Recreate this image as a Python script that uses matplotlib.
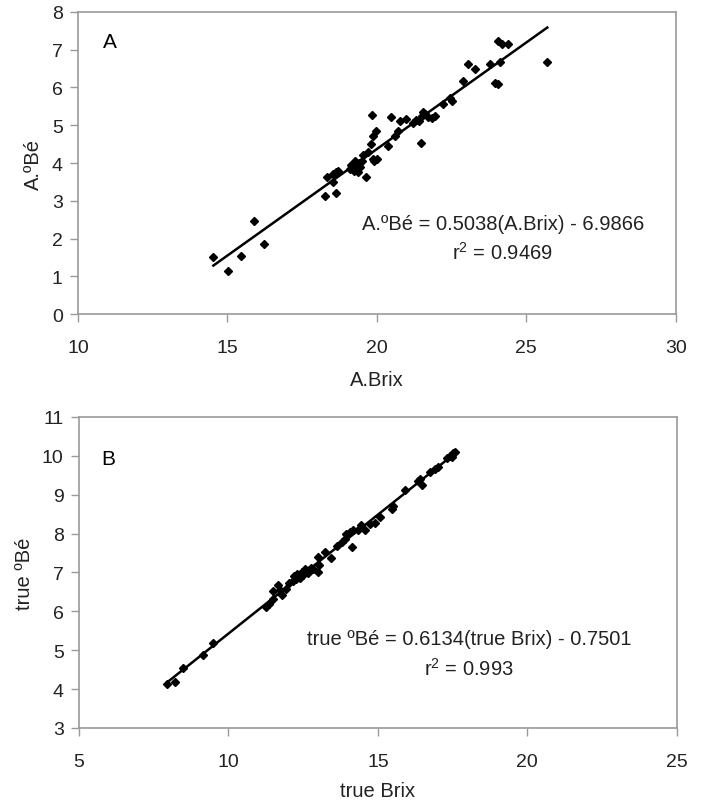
import numpy as np
import matplotlib.pyplot as plt

plt.rcParams['font.family'] = ['Liberation Sans', 'DejaVu Sans']
plt.rcParams['mathtext.fontset'] = 'custom'
plt.rcParams['mathtext.rm'] = 'Liberation Sans'
plt.rcParams['mathtext.default'] = 'regular'

# ---- panel A : apparent readings ----
a_brix = [14.53, 15.03, 15.47, 15.89, 16.23, 18.26, 18.32, 18.63, 18.54, 18.63,
          18.71, 18.54, 19.10, 19.20, 19.25, 19.30, 19.35, 19.40, 19.45, 19.50,
          19.15, 19.28, 19.38, 19.63, 19.82, 19.87, 19.90, 19.80, 19.87, 19.98,
          20.00, 20.38, 20.47, 20.60, 20.70, 20.76, 20.98, 21.20, 21.40, 21.50,
          21.60, 21.70, 21.85, 21.95, 21.49, 22.22, 22.44, 22.50, 22.89, 23.05,
          23.27, 23.78, 23.95, 24.06, 24.06, 24.17, 24.39, 24.11, 25.70, 19.55,
          19.70, 21.55, 21.30]
a_be = [1.50, 1.15, 1.54, 2.47, 1.85, 3.13, 3.62, 3.20, 3.50, 3.75,
        3.79, 3.70, 3.85, 3.90, 3.80, 3.95, 3.85, 4.00, 3.90, 4.05,
        3.95, 4.05, 3.75, 3.62, 5.26, 4.10, 4.05, 4.50, 4.72, 4.85,
        4.10, 4.45, 5.23, 4.72, 4.85, 5.11, 5.16, 5.07, 5.10, 5.25,
        5.30, 5.22, 5.20, 5.25, 4.54, 5.56, 5.73, 5.64, 6.17, 6.61,
        6.48, 6.61, 6.13, 6.09, 7.23, 7.14, 7.14, 6.66, 6.66, 4.20,
        4.30, 5.35, 5.15]

# ---- panel B : true readings ----
b_brix = [7.96, 8.21, 8.47, 9.16, 9.47, 11.27, 11.37, 11.50, 11.50, 11.67,
          11.80, 11.72, 11.93, 12.04, 12.15, 12.26, 12.37, 12.48, 12.60, 12.71,
          12.82, 12.99, 13.03, 12.99, 13.23, 13.44, 13.62, 13.79, 13.90, 13.95,
          14.12, 14.06, 14.17, 14.34, 14.45, 14.56, 14.72, 14.89, 15.07, 15.46,
          15.52, 15.90, 16.35, 16.46, 16.40, 16.74, 16.91, 17.02, 17.30, 17.41,
          17.52, 17.57, 17.47, 12.30, 12.45, 12.55, 12.65, 12.75, 12.40, 12.20]
b_be = [4.12, 4.18, 4.54, 4.88, 5.19, 6.11, 6.18, 6.31, 6.51, 6.68,
        6.41, 6.55, 6.58, 6.72, 6.79, 6.84, 6.88, 6.94, 7.01, 7.05,
        7.10, 7.01, 7.20, 7.39, 7.52, 7.37, 7.69, 7.77, 7.86, 7.99,
        7.65, 8.03, 8.08, 8.08, 8.23, 8.10, 8.24, 8.27, 8.42, 8.64,
        8.70, 9.13, 9.34, 9.25, 9.41, 9.58, 9.66, 9.70, 9.94, 10.00,
        10.07, 10.10, 9.97, 6.95, 7.00, 7.08, 6.98, 7.12, 6.85, 6.90]

txt = '#222222'
grey = '#9a9a9a'
fs = 14.5

fig = plt.figure(figsize=(7.05, 8.04), dpi=100)
axA = fig.add_axes([0.1106, 0.608, 0.848, 0.376])
axB = fig.add_axes([0.112, 0.0933, 0.848, 0.387])


def style(ax):
    for s in ax.spines.values():
        s.set_color(grey)
        s.set_linewidth(1.2)
    ax.tick_params(direction='out', length=6, width=1, color=grey,
                   labelsize=14, labelcolor=txt)
    ax.tick_params(axis='x', pad=12)
    ax.tick_params(axis='y', pad=5)


def panel(ax, x, y):
    x = np.array(x)
    y = np.array(y)
    k, b = np.polyfit(x, y, 1)
    xl = np.array([x.min(), x.max()])
    ax.plot(xl, k * xl + b, color='black', lw=1.8, zorder=2)
    ax.plot(x, y, 'D', color='black', ms=4.3, zorder=3)
    style(ax)


panel(axA, a_brix, a_be)
axA.set_xlim(10, 30)
axA.set_ylim(0, 8)
axA.set_xticks([10, 15, 20, 25, 30])
axA.set_yticks(range(0, 9))
axA.set_xlabel('A.Brix', fontsize=fs, color=txt, labelpad=10)
axA.set_ylabel('A.ºBé', fontsize=fs, color=txt, labelpad=6)
axA.text(10.83, 7.22, 'A', fontsize=15, color='black', va='center')
axA.text(24.21, 2.41, 'A.ºBé = 0.5038(A.Brix) - 6.9866', fontsize=fs,
         color=txt, ha='center', va='center')
axA.text(24.21, 1.64, 'r$^2$ = 0.9469', fontsize=fs, color=txt,
         ha='center', va='center')

panel(axB, b_brix, b_be)
axB.set_xlim(5, 25)
axB.set_ylim(3, 11)
axB.set_xticks([5, 10, 15, 20, 25])
axB.set_yticks(range(3, 12))
axB.set_xlabel('true Brix', fontsize=fs, color=txt, labelpad=8)
axB.set_ylabel('true ºBé', fontsize=fs, color=txt, labelpad=6)
axB.text(5.76, 9.92, 'B', fontsize=15, color='black', va='center')
axB.text(18.04, 5.29, 'true ºBé = 0.6134(true Brix) - 0.7501', fontsize=fs,
         color=txt, ha='center', va='center')
axB.text(18.04, 4.54, 'r$^2$ = 0.993', fontsize=fs, color=txt,
         ha='center', va='center')

fig.savefig('out.png', dpi=100)
